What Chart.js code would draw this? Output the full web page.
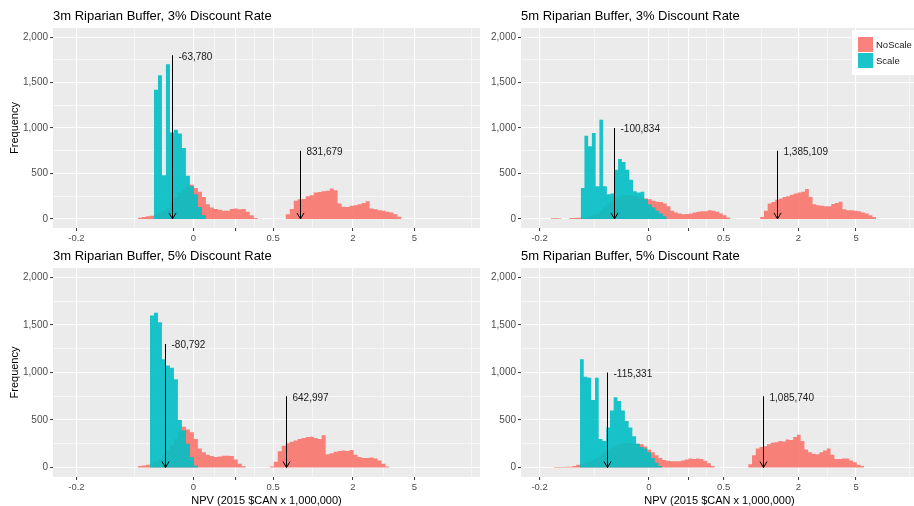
<!DOCTYPE html>
<html>
<head>
<meta charset="utf-8">
<title>NPV histograms</title>
<script src="https://cdn.jsdelivr.net/npm/chart.js@4.4.1/dist/chart.umd.min.js"></script>
<style>
  html, body { margin: 0; padding: 0; background: #fff; overflow: hidden; }
  body { width: 914px; height: 506px; position: relative; }
  canvas { position: absolute; }
</style>
</head>
<body>
<canvas id="tl" width="480" height="245" style="left:0;top:0"></canvas>
<canvas id="tr" width="438" height="245" style="left:480px;top:0"></canvas>
<canvas id="bl" width="480" height="261" style="left:0;top:245px"></canvas>
<canvas id="br" width="438" height="261" style="left:480px;top:245px"></canvas>
<script>
// ---------- data ----------
const seriesNames = ['NoScale', 'Scale'];
const panelTitles = [
  '3m Riparian Buffer, 3% Discount Rate',
  '5m Riparian Buffer, 3% Discount Rate',
  '3m Riparian Buffer, 5% Discount Rate',
  '5m Riparian Buffer, 5% Discount Rate'
];
const xAxisTitle = 'NPV (2015 $CAN x 1,000,000)';
const yAxisTitle = 'Frequency';

// x axis is log(NPV + 0.25), NPV in millions
const npvOffset = 0.25;
const xBreaks = [-0.2, 0, 0.2, 0.5, 2, 5];
const xBreakLabels = ['-0.2', '0', '', '0.5', '2', '5'];
const xOuterBreak = 25; // only for the last minor grid line
const yBreaks = [0, 500, 1000, 1500, 2000];

// histogram bins, equal width on the transformed axis
const binWidth = 0.055;

// 3m buffer, 3% rate
const noScale3m3Start = -2.148;
const noScale3m3 = [12, 20, 28, 35, 50, 70, 90, 120, 180, 240, 290, 330, 370, 375, 340, 300, 240, 160, 125, 110,
  100, 90, 90, 110, 115, 105, 110, 80, 40, 10, 0, 0, 0, 0, 0, 0, 0, 50, 110, 200, 215, 220, 250, 260, 290, 295,
  305, 310, 335, 315, 170, 135, 130, 145, 150, 160, 175, 195, 115, 105, 95, 90, 80, 70, 50, 25];
const scale3m3Start = -1.928;
const scale3m3 = [1420, 1580, 480, 1700, 950, 980, 940, 780, 476, 358, 270, 130, 40];

// 5m buffer, 3% rate
const noScale5m3Start = -2.831;
const noScale5m3 = [8, 8, 5, 0, 0, 10, 10, 12, 15, 20, 30, 40, 60, 90, 130, 170, 200, 230, 250, 260, 260, 255, 250,
  240, 235, 225, 215, 200, 190, 185, 170, 140, 90, 70, 60, 50, 55, 60, 70, 80, 85, 85, 95, 90, 80, 60, 40, 15,
  0, 0, 0, 0, 0, 0, 0, 0, 20, 90, 170, 185, 210, 225, 240, 250, 265, 280, 290, 300, 330, 240, 160, 150, 145, 140,
  140, 165, 175, 190, 105, 95, 95, 90, 85, 70, 60, 40, 20];
const scale5m3Start = -2.391;
const scale5m3 = [340, 915, 800, 945, 360, 1090, 360, 270, 280, 540, 660, 625, 540, 430, 305, 290, 300, 215, 160,
  125, 90, 60, 30];

// 3m buffer, 5% rate
const noScale3m5Start = -2.148;
const noScale3m5 = [15, 20, 30, 40, 60, 90, 130, 180, 240, 300, 380, 430, 400, 370, 300, 200, 160, 135, 120, 110,
  115, 125, 125, 120, 85, 40, 12, 0, 0, 0, 0, 0, 0, 10, 60, 170, 230, 255, 270, 285, 300, 310, 320, 325, 310, 300,
  340, 140, 150, 165, 175, 180, 175, 185, 135, 110, 100, 100, 105, 95, 75, 40, 10];
const scale3m5Start = -1.983;
const scale3m5 = [1600, 1630, 1530, 1140, 1075, 1050, 930, 500, 390, 250, 110, 20];

// 5m buffer, 5% rate
const noScale5m5Start = -2.786;
const noScale5m5 = [5, 5, 5, 8, 8, 15, 30, 40, 50, 60, 80, 100, 130, 160, 190, 210, 230, 245, 255, 260, 255, 250,
  250, 245, 220, 190, 160, 130, 100, 80, 70, 65, 65, 65, 75, 85, 95, 90, 95, 90, 70, 45, 15, 0, 0, 0, 0, 0, 0, 0,
  0, 0, 35, 130, 200, 215, 225, 245, 260, 265, 280, 275, 295, 290, 320, 345, 280, 190, 160, 145, 140, 160, 180, 200,
  135, 90, 90, 95, 95, 75, 55, 30, 15];
const scale5m5Start = -2.401;
const scale5m5 = [1140, 955, 945, 710, 945, 300, 280, 420, 600, 740, 700, 600, 490, 420, 330, 250, 215, 200, 160,
  100, 50, 15];

// mean NPV ($) of [NoScale, Scale] and the frequency where each arrow starts
const means3m3 = [831679, -63780];
const arrowTops3m3 = [750, 1800];
const means5m3 = [1385109, -100834];
const arrowTops5m3 = [750, 1000];
const means3m5 = [642997, -80792];
const arrowTops3m5 = [750, 1300];
const means5m5 = [1085740, -115331];
const arrowTops5m5 = [750, 1000];

// ---------- helpers ----------
const FONT = "'Liberation Sans', Arial, Helvetica, sans-serif";
Chart.defaults.font.family = FONT;
const colors = ['rgba(248,118,109,0.9)', 'rgba(0,191,196,0.9)'];

const toAxis = npv => Math.log(npv + npvOffset);

function histPoints(start, counts) {
  const pts = counts.map((c, i) => ({ x: start + i * binWidth, y: c }));
  pts.push({ x: start + counts.length * binWidth, y: 0 });
  return pts;
}

function withMinor(major, toPos) {
  const list = major.map(m => ({ value: toPos(m.v), text: m.text, minor: false }));
  const n = list.length;
  for (let i = 0; i < n - 1; i++) {
    list.push({ value: (list[i].value + list[i + 1].value) / 2, text: '', minor: true });
  }
  return list.sort((a, b) => a.value - b.value);
}

const xTickList = (() => {
  const t = withMinor(xBreaks.map((v, i) => ({ v, text: xBreakLabels[i] })), toAxis);
  t.push({ value: (toAxis(xBreaks[xBreaks.length - 1]) + toAxis(xOuterBreak)) / 2, text: '', minor: true });
  return t;
})();
const yTickList = withMinor(yBreaks.map(v => ({ v, text: v.toLocaleString('en-US') })), v => v);

const panelBg = {
  id: 'panelBg',
  beforeDraw(chart) {
    const { ctx, chartArea: a } = chart;
    ctx.save();
    ctx.fillStyle = '#EBEBEB';
    ctx.fillRect(a.left, a.top, a.width, a.height);
    ctx.restore();
  }
};

function meanArrows(means, tops) {
  return {
    id: 'meanArrows',
    afterDatasetsDraw(chart) {
      const { ctx, scales: { x, y } } = chart;
      ctx.save();
      means.forEach((m, i) => {
        const px = Math.round(x.getPixelForValue(toAxis(m / 1e6))) + 0.5;
        const y0 = y.getPixelForValue(0);
        const y1 = y.getPixelForValue(tops[i]);
        ctx.strokeStyle = '#000';
        ctx.lineWidth = 1;
        ctx.beginPath();
        ctx.moveTo(px, y1);
        ctx.lineTo(px, y0);
        ctx.moveTo(px - 3.5, y0 - 6);
        ctx.lineTo(px, y0);
        ctx.lineTo(px + 3.5, y0 - 6);
        ctx.stroke();
        ctx.fillStyle = '#1a1a1a';
        ctx.font = '10px ' + FONT;
        ctx.textBaseline = 'middle';
        ctx.fillText(m.toLocaleString('en-US'), px + 6, y1 + 1.5);
      });
      ctx.restore();
    }
  };
}

const ggLegend = {
  id: 'ggLegend',
  afterDraw(chart) {
    const { ctx, chartArea: a } = chart;
    const left = a.right - 66, top = a.top + 2;
    ctx.save();
    ctx.fillStyle = '#fff';
    ctx.fillRect(left, top, 66, 45);
    ctx.font = '9.5px ' + FONT;
    ctx.textBaseline = 'middle';
    seriesNames.forEach((name, i) => {
      ctx.fillStyle = colors[i];
      ctx.fillRect(left + 6, top + 7 + i * 16, 15, 15);
      ctx.fillStyle = '#1a1a1a';
      ctx.fillText(name, left + 24, top + 15 + i * 16);
    });
    ctx.restore();
  }
};

function makePanel(id, p) {
  const gridCommon = {
    color: '#ffffff',
    lineWidth: c => (c.tick && c.tick.minor ? 0.55 : 1.1),
    tickLength: 3,
    tickWidth: 1,
    tickColor: c => (c.tick && c.tick.minor ? 'rgba(0,0,0,0)' : '#333333')
  };
  const plugins = [panelBg, meanArrows(p.means, p.tops)];
  if (p.legend) plugins.push(ggLegend);

  return new Chart(document.getElementById(id), {
    type: 'line',
    data: {
      datasets: [
        { label: seriesNames[1], data: histPoints(p.scaleStart, p.scale), backgroundColor: colors[1] },
        { label: seriesNames[0], data: histPoints(p.noScaleStart, p.noScale), backgroundColor: colors[0] }
      ].map(d => Object.assign(d, { stepped: 'before', fill: 'origin', borderWidth: 0, pointRadius: 0, pointHoverRadius: 0 }))
    },
    options: {
      responsive: false,
      animation: false,
      events: [],
      layout: { padding: 0 },
      plugins: {
        legend: { display: false },
        tooltip: { enabled: false },
        title: {
          display: true,
          text: p.title,
          align: 'start',
          fullSize: false,
          color: '#000',
          font: { size: 13, weight: 'normal' },
          padding: { top: p.titleTop, bottom: p.titleBottom }
        }
      },
      scales: {
        x: {
          type: 'linear',
          min: p.xMin,
          max: p.xMax,
          afterBuildTicks: s => { s.ticks = xTickList.map(t => Object.assign({}, t)); },
          afterFit: s => { s.height = p.xAxisHeight; },
          border: { display: false },
          grid: gridCommon,
          ticks: {
            autoSkip: false, maxRotation: 0, padding: 2, color: '#4D4D4D',
            font: { size: 9.5 },
            callback: (v, i, ticks) => ticks[i].text
          },
          title: {
            display: p.xTitle, text: xAxisTitle, color: '#000',
            font: { size: 11, lineHeight: 1 }, padding: { top: 0, bottom: 0 }
          }
        },
        y: {
          type: 'linear',
          min: -100,
          max: 2100,
          afterBuildTicks: s => { s.ticks = yTickList.map(t => Object.assign({}, t)); },
          afterFit: s => { s.width = p.yAxisWidth; },
          border: { display: false },
          grid: gridCommon,
          ticks: {
            autoSkip: false, padding: 2, color: '#4D4D4D',
            font: { size: 10 },
            callback: (v, i, ticks) => ticks[i].text
          },
          title: {
            display: p.yTitle, text: yAxisTitle, color: '#000',
            font: { size: 11 }, padding: { top: 8, bottom: 0 }
          }
        }
      }
    },
    plugins
  });
}

const leftCol = { xMin: -3.3188, xMax: 2.5628, yAxisWidth: 53, yTitle: true };
const rightCol = { xMin: -3.2687, xMax: 2.5696, yAxisWidth: 41, yTitle: false };
const topRow = { titleTop: 9, titleBottom: 3.4, xAxisHeight: 17, xTitle: false };
const bottomRow = { titleTop: 4, titleBottom: 3.4, xAxisHeight: 29, xTitle: true };

makePanel('tl', Object.assign({}, leftCol, topRow, {
  title: panelTitles[0], noScaleStart: noScale3m3Start, noScale: noScale3m3,
  scaleStart: scale3m3Start, scale: scale3m3, means: means3m3, tops: arrowTops3m3
}));
makePanel('tr', Object.assign({}, rightCol, topRow, {
  title: panelTitles[1], noScaleStart: noScale5m3Start, noScale: noScale5m3,
  scaleStart: scale5m3Start, scale: scale5m3, means: means5m3, tops: arrowTops5m3, legend: true
}));
makePanel('bl', Object.assign({}, leftCol, bottomRow, {
  title: panelTitles[2], noScaleStart: noScale3m5Start, noScale: noScale3m5,
  scaleStart: scale3m5Start, scale: scale3m5, means: means3m5, tops: arrowTops3m5
}));
makePanel('br', Object.assign({}, rightCol, bottomRow, {
  title: panelTitles[3], noScaleStart: noScale5m5Start, noScale: noScale5m5,
  scaleStart: scale5m5Start, scale: scale5m5, means: means5m5, tops: arrowTops5m5
}));
</script>
</body>
</html>
